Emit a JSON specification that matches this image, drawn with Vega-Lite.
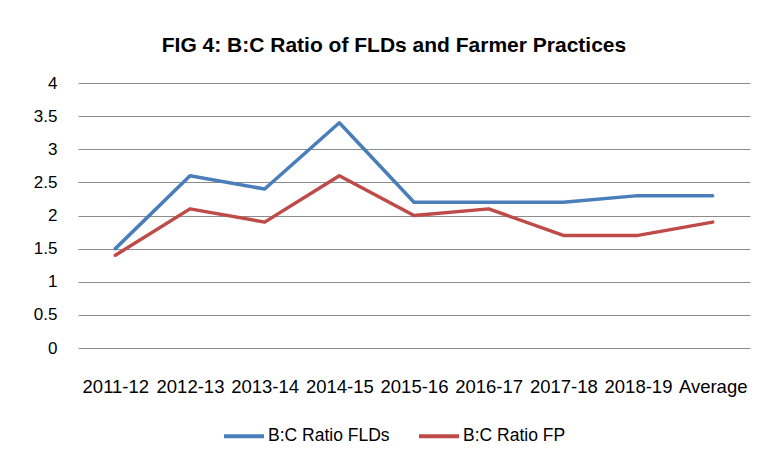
{
  "$schema": "https://vega.github.io/schema/vega-lite/v6.json",
  "autosize": {"type": "none"},
  "width": 672,
  "height": 265,
  "padding": {"left": 78, "top": 83, "right": 15, "bottom": 114},
  "background": "white",
  "title": {
    "text": "FIG 4: B:C Ratio of FLDs and Farmer Practices",
    "font": "Liberation Sans",
    "fontSize": 21,
    "fontWeight": "bold",
    "color": "#000000",
    "anchor": "middle",
    "dx": -20,
    "offset": 18
  },
  "data": {
    "values": [
      {"period": "2011-12", "series": "B:C Ratio FLDs", "value": 1.5},
      {"period": "2012-13", "series": "B:C Ratio FLDs", "value": 2.6},
      {"period": "2013-14", "series": "B:C Ratio FLDs", "value": 2.4},
      {"period": "2014-15", "series": "B:C Ratio FLDs", "value": 3.4},
      {"period": "2015-16", "series": "B:C Ratio FLDs", "value": 2.2},
      {"period": "2016-17", "series": "B:C Ratio FLDs", "value": 2.2},
      {"period": "2017-18", "series": "B:C Ratio FLDs", "value": 2.2},
      {"period": "2018-19", "series": "B:C Ratio FLDs", "value": 2.3},
      {"period": "Average", "series": "B:C Ratio FLDs", "value": 2.3},
      {"period": "2011-12", "series": "B:C Ratio FP", "value": 1.4},
      {"period": "2012-13", "series": "B:C Ratio FP", "value": 2.1},
      {"period": "2013-14", "series": "B:C Ratio FP", "value": 1.9},
      {"period": "2014-15", "series": "B:C Ratio FP", "value": 2.6},
      {"period": "2015-16", "series": "B:C Ratio FP", "value": 2.0},
      {"period": "2016-17", "series": "B:C Ratio FP", "value": 2.1},
      {"period": "2017-18", "series": "B:C Ratio FP", "value": 1.7},
      {"period": "2018-19", "series": "B:C Ratio FP", "value": 1.7},
      {"period": "Average", "series": "B:C Ratio FP", "value": 1.9}
    ]
  },
  "mark": {"type": "line", "strokeWidth": 3.5, "strokeCap": "round", "strokeJoin": "round"},
  "encoding": {
    "x": {
      "field": "period",
      "type": "nominal",
      "sort": null,
      "scale": {"type": "point", "padding": 0.5},
      "axis": {
        "title": null,
        "labelAngle": 0,
        "ticks": false,
        "domain": false,
        "labelPadding": 29,
        "labelFont": "Liberation Sans",
        "labelFontSize": 18.5,
        "labelColor": "#000000",
        "grid": false
      }
    },
    "y": {
      "field": "value",
      "type": "quantitative",
      "scale": {"domain": [0, 4], "nice": false},
      "axis": {
        "title": null,
        "values": [0, 0.5, 1, 1.5, 2, 2.5, 3, 3.5, 4],
        "format": ".1~f",
        "ticks": false,
        "domain": false,
        "labelPadding": 21,
        "labelFont": "Liberation Sans",
        "labelFontSize": 17,
        "labelColor": "#000000",
        "grid": true,
        "gridColor": "#8c8c8c",
        "gridWidth": 1.2,
        "gridOpacity": 1
      }
    },
    "color": {
      "field": "series",
      "type": "nominal",
      "scale": {"domain": ["B:C Ratio FLDs", "B:C Ratio FP"], "range": ["#4A7EBB", "#BE4B48"]},
      "legend": {
        "title": null,
        "orient": "none",
        "legendX": 144,
        "legendY": 331,
        "direction": "horizontal",
        "symbolType": "stroke",
        "symbolSize": 1600,
        "symbolStrokeWidth": 4,
        "labelFont": "Liberation Sans",
        "labelFontSize": 17.5,
        "labelColor": "#000000",
        "columnPadding": 21,
        "labelOffset": 2
      }
    }
  },
  "config": {
    "view": {"stroke": null}
  }
}
